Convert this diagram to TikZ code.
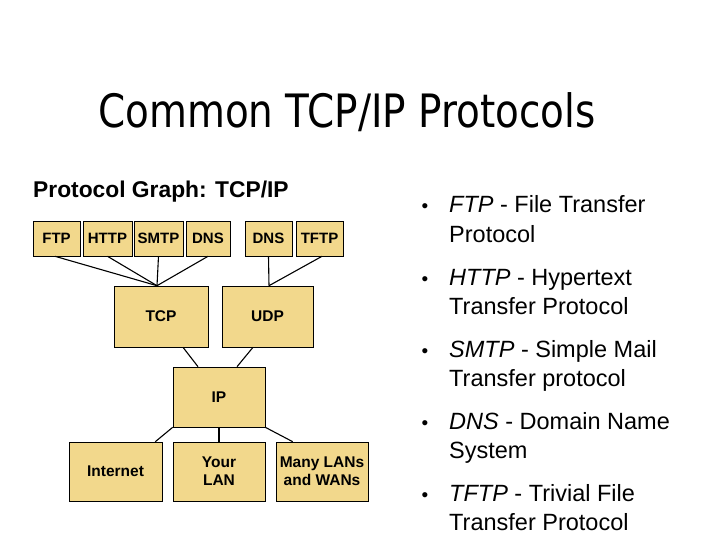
\documentclass[tikz,border=0pt]{standalone}
\usepackage{fontspec}
\setmainfont{Liberation Sans}
\newfontfamily\titlefont{DejaVu Sans}
\definecolor{boxfill}{RGB}{242,216,140}

\begin{document}
\begin{tikzpicture}[x=1pt,y=-1pt,
    proto/.style={draw=black,line width=0.6pt,fill=boxfill,inner sep=0pt,minimum height=35pt,font=\bfseries\fontsize{15}{17}\selectfont},
    layer/.style={draw=black,line width=0.6pt,fill=boxfill,inner sep=0pt,minimum width=92pt,minimum height=60pt,align=center,font=\bfseries\fontsize{15.5}{18}\selectfont},
    link/.style={line width=1.1pt},
    item/.style={anchor=base west,inner sep=0pt}]
    \useasboundingbox[fill=white] (0,0) rectangle (720,540);
    % title
    \node (title) at (347,112) {\titlefont\fontsize{46}{50}\selectfont\scalebox{0.846}[1]{Common TCP/IP Protocols}};
    \node[anchor=base west,inner sep=0pt,font=\bfseries\fontsize{22.8}{26}\selectfont] (graph) at (33,198) {Protocol Graph: TCP/IP};
    % application protocols
    \node[proto,minimum width=47pt] (ftp) at (56.5,238.5) {FTP};
    \node[proto,minimum width=49pt] (http) at (107.5,238.5) {HTTP};
    \node[proto,minimum width=49pt] (smtp) at (158.5,238.5) {SMTP};
    \node[proto,minimum width=44pt] (dns) at (208,238.5) {DNS};
    \node[proto,minimum width=47pt] (dnsb) at (268.5,238.5) {DNS};
    \node[proto,minimum width=47pt] (tftp) at (319.5,238.5) {TFTP};
    % transport and network
    \node[layer,minimum width=94pt,minimum height=61pt] (tcp) at (161,316.5) {TCP};
    \node[layer,minimum width=91pt,minimum height=61pt] (udp) at (267.5,316.5) {UDP};
    \node[layer] (ip) at (219,397) {IP};
    % links
    \node[layer,minimum width=93pt,minimum height=59pt] (inet) at (115.5,471.5) {Internet};
    \node[layer,minimum height=59pt] (lan) at (219,471.5) {Your\\LAN};
    \node[layer,minimum height=59pt] (wan) at (322,471.5) {Many LANs\\and WANs};
    % connectors
    \draw[link] ([xshift=-1.5pt]ftp.south) -- ([xshift=-4pt]tcp.north);
    \draw[link] (http.south) -- ([xshift=-4pt]tcp.north);
    \draw[link] (smtp.south) -- ([xshift=-4pt]tcp.north);
    \draw[link] (dns.south) -- ([xshift=-4pt]tcp.north);
    \draw[link] (dnsb.south) -- ([xshift=1.5pt]udp.north);
    \draw[link] ([xshift=2.5pt]tftp.south) -- ([xshift=1.5pt]udp.north);
    \draw[link] ([xshift=22pt]tcp.south) -- ([xshift=-21pt]ip.north);
    \draw[link] ([xshift=-14.5pt]udp.south) -- ([xshift=18pt]ip.north);
    \draw[link] (ip.south west) -- ([xshift=-7pt]inet.north east);
    \draw[link] (ip.south) -- (lan.north);
    \draw[link] (ip.south east) -- ([xshift=17pt]wan.north west);
    % bullet list
    \foreach \y/\name in {213/b1,285/b2,357/b3,429/b4,501/b5}
      \node[anchor=base,inner sep=0pt,font=\fontsize{19}{21}\selectfont] (\name) at (425,\y) {\textbullet};
    \node[item] (t1) at (449,213) {\parbox[t]{260pt}{\fontsize{23.5}{29}\selectfont\textit{FTP} - File Transfer\\Protocol}};
    \node[item] (t2) at (449,285) {\parbox[t]{260pt}{\fontsize{23.5}{29}\selectfont\textit{HTTP} - Hypertext\\Transfer Protocol}};
    \node[item] (t3) at (449,357) {\parbox[t]{260pt}{\fontsize{23.5}{29}\selectfont\textit{SMTP} - Simple Mail\\Transfer protocol}};
    \node[item] (t4) at (449,429) {\parbox[t]{260pt}{\fontsize{23.5}{29}\selectfont\textit{DNS} - Domain Name\\System}};
    \node[item] (t5) at (449,501) {\parbox[t]{260pt}{\fontsize{23.5}{29}\selectfont\textit{TFTP} - Trivial File\\Transfer Protocol}};
\end{tikzpicture}
\end{document}
